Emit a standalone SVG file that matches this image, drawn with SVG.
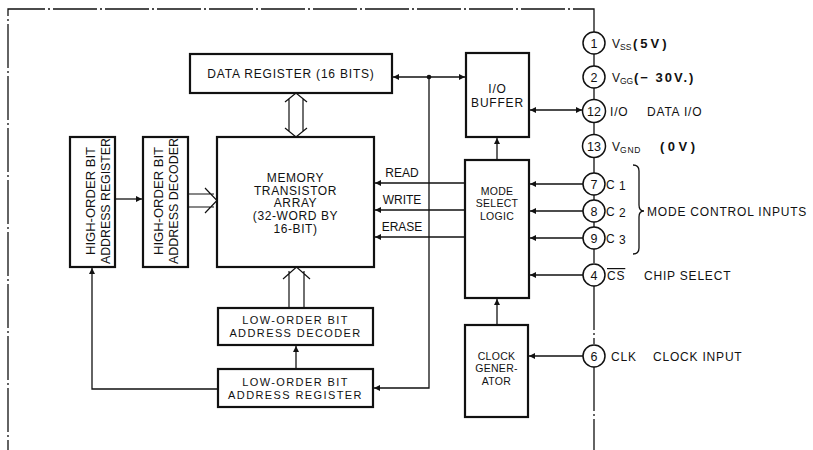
<svg xmlns="http://www.w3.org/2000/svg" width="813" height="450" viewBox="0 0 813 450">
<style>
  .box{fill:#fff;stroke:#111;stroke-width:2.2}
  .ln{fill:none;stroke:#111;stroke-width:1.3}
  .hol{fill:none;stroke:#111;stroke-width:1.2}
  .dash{fill:none;stroke:#111;stroke-width:1.3;stroke-dasharray:44 3 2 3}
  .pin{fill:#fff;stroke:#111;stroke-width:1.5}
  text{font-family:"Liberation Sans",Arial,sans-serif;fill:#111;font-size:12px}
  .c{text-anchor:middle}
  .ls{letter-spacing:0.8px}
  .lo{font-size:11px;letter-spacing:1.4px;text-anchor:middle}
  .sm{font-size:10.5px;letter-spacing:0.3px;text-anchor:middle}
  .pn{font-size:12.5px;text-anchor:middle}
  .sub{font-size:8.5px}
  .b{font-weight:bold;font-size:13px}
</style>
<defs>
  <marker id="ah" viewBox="0 0 10 10" refX="10" refY="5" markerWidth="8" markerHeight="6" markerUnits="userSpaceOnUse" orient="auto-start-reverse">
    <path d="M0,0 L10,5 L0,10 z" fill="#111"/>
  </marker>
</defs>

<g id="connectors">
  <path class="dash" d="M594,32 V9 H8 V450"/>
  <path class="ln" d="M594,54 V66 M594,88 V99 M594,123 V135 M594,158 V173 M594,195 V200 M594,222 V227 M594,249 V263"/>
  <path class="dash" d="M594,286 V344 M594,367 V450"/>

  <line class="ln" x1="429" y1="77" x2="393" y2="77" marker-end="url(#ah)"/>
  <line class="ln" x1="429" y1="77" x2="465" y2="77" marker-end="url(#ah)"/>
  <circle cx="429" cy="77" r="2.3" fill="#111"/>
  <path class="ln" d="M429,77 V388 H374" marker-end="url(#ah)"/>

  <line class="ln" x1="530" y1="110" x2="582" y2="110" marker-start="url(#ah)" marker-end="url(#ah)"/>
  <line class="ln" x1="497" y1="160" x2="497" y2="138" marker-end="url(#ah)"/>
  <line class="ln" x1="497" y1="325" x2="497" y2="299" marker-end="url(#ah)"/>

  <line class="ln" x1="465" y1="183" x2="375" y2="183" marker-end="url(#ah)"/>
  <line class="ln" x1="465" y1="210" x2="375" y2="210" marker-end="url(#ah)"/>
  <line class="ln" x1="465" y1="237" x2="375" y2="237" marker-end="url(#ah)"/>

  <line class="ln" x1="583" y1="184" x2="530" y2="184" marker-end="url(#ah)"/>
  <line class="ln" x1="583" y1="211" x2="530" y2="211" marker-end="url(#ah)"/>
  <line class="ln" x1="583" y1="238" x2="530" y2="238" marker-end="url(#ah)"/>
  <line class="ln" x1="583" y1="275" x2="530" y2="275" marker-end="url(#ah)"/>
  <line class="ln" x1="583" y1="356" x2="529" y2="356" marker-end="url(#ah)"/>

  <line class="ln" x1="115" y1="199" x2="142" y2="199" marker-end="url(#ah)"/>
  <path class="ln" d="M218,389 H92 V268" marker-end="url(#ah)"/>
  <line class="ln" x1="296" y1="369" x2="296" y2="346" marker-end="url(#ah)"/>

  <path class="hol" d="M285,102 L296,93 L307,102 M289,99 V131 M303,99 V131 M285,128 L296,137 L307,128"/>
  <path class="hol" d="M189,194 H214 M189,207 H214 M205,188 L217,200.5 L205,213"/>
  <path class="hol" d="M289,308 V271 M304,308 V271 M283,279 L296.5,267 L310,279"/>

  <path class="ln" d="M633,165 Q639,165 639,171 V205 Q639,211 644,211 Q639,211 639,217 V248 Q639,254 633,254"/>
</g>

<g id="data-register">
  <rect class="box" x="190" y="54" width="202" height="39"/>
  <text class="c ls" x="291" y="78">DATA REGISTER (16 BITS)</text>
</g>

<g id="memory-array">
  <rect class="box" x="217" y="137" width="157" height="130"/>
  <text class="c" x="295.5" y="182" style="letter-spacing:0.6px">MEMORY</text>
  <text class="c" x="295.5" y="194.5" style="letter-spacing:0.6px">TRANSISTOR</text>
  <text class="c" x="295.5" y="207" style="letter-spacing:0.6px">ARRAY</text>
  <text class="c" x="295.5" y="220" style="letter-spacing:0.6px">(32-WORD BY</text>
  <text class="c" x="295.5" y="233" style="letter-spacing:0.6px">16-BIT)</text>
</g>

<g id="high-order-register">
  <rect class="box" x="70" y="137" width="45" height="130"/>
  <g transform="translate(92,201) rotate(-90)">
    <text class="c" x="0" y="3" font-size="13" textLength="108" lengthAdjust="spacingAndGlyphs">HIGH-ORDER BIT</text>
    <text class="c" x="0" y="18" font-size="13" textLength="126" lengthAdjust="spacingAndGlyphs">ADDRESS REGISTER</text>
  </g>
</g>

<g id="high-order-decoder">
  <rect class="box" x="143" y="137" width="45" height="130"/>
  <g transform="translate(165.5,201) rotate(-90)">
    <text class="c" x="0" y="-3" font-size="13" textLength="108" lengthAdjust="spacingAndGlyphs">HIGH-ORDER BIT</text>
    <text class="c" x="0" y="12" font-size="13" textLength="126" lengthAdjust="spacingAndGlyphs">ADDRESS DECODER</text>
  </g>
</g>

<g id="low-order-decoder">
  <rect class="box" x="218" y="308" width="155" height="37"/>
  <text class="lo" x="295.5" y="323.5">LOW-ORDER BIT</text>
  <text class="lo" x="295.5" y="336.5">ADDRESS DECODER</text>
</g>

<g id="low-order-register">
  <rect class="box" x="218" y="369" width="155" height="38"/>
  <text class="lo" x="295.5" y="385.5">LOW-ORDER BIT</text>
  <text class="lo" x="295.5" y="398.5">ADDRESS REGISTER</text>
</g>

<g id="io-buffer">
  <rect class="box" x="466" y="53" width="63" height="84"/>
  <text class="c ls" x="497.5" y="93">I/O</text>
  <text class="c ls" x="497.5" y="107">BUFFER</text>
</g>

<g id="mode-select">
  <rect class="box" x="465" y="160" width="64" height="138"/>
  <text class="sm" x="497" y="194.5">MODE</text>
  <text class="sm" x="497" y="207">SELECT</text>
  <text class="sm" x="497" y="219.5">LOGIC</text>
</g>

<g id="clock-generator">
  <rect class="box" x="465" y="325" width="63" height="92"/>
  <text class="sm" x="496.5" y="359.5">CLOCK</text>
  <text class="sm" x="496.5" y="372">GENER-</text>
  <text class="sm" x="496.5" y="384.5">ATOR</text>
</g>

<g id="labels-rwe">
  <text class="c" x="402" y="177">READ</text>
  <text class="c" x="402" y="204">WRITE</text>
  <text class="c" x="402" y="231">ERASE</text>
</g>

<g id="pin-1">
  <circle class="pin" cx="594" cy="43" r="11"/>
  <text class="pn" x="594" y="47.5">1</text>
  <text x="612" y="48">V</text>
  <text class="sub" x="620" y="50">SS</text>
  <text class="b" x="633" y="48" style="letter-spacing:3px">(5V)</text>
</g>
<g id="pin-2">
  <circle class="pin" cx="594" cy="77" r="11"/>
  <text class="pn" x="594" y="81.5">2</text>
  <text x="612" y="82">V</text>
  <text class="sub" x="620" y="84">GG</text>
  <text class="b" x="634" y="82" style="letter-spacing:2px">(− 30V.)</text>
</g>
<g id="pin-12">
  <circle class="pin" cx="594" cy="111" r="11.5"/>
  <text class="pn" x="594" y="115.5">12</text>
  <text class="ls" x="610" y="116">I/O</text>
  <text class="ls" x="647" y="116">DATA I/O</text>
</g>
<g id="pin-13">
  <circle class="pin" cx="594" cy="146" r="11.5"/>
  <text class="pn" x="594" y="150.5">13</text>
  <text x="612" y="151">V</text>
  <text class="sub" x="620" y="153" style="letter-spacing:0.8px">GND</text>
  <text class="b" x="660" y="151" style="letter-spacing:3.5px">(0V)</text>
</g>
<g id="pin-7">
  <circle class="pin" cx="594" cy="184" r="11"/>
  <text class="pn" x="594" y="188.5">7</text>
  <text x="606" y="189" font-size="13">C</text>
  <text x="619" y="190" font-size="10">1</text>
</g>
<g id="pin-8">
  <circle class="pin" cx="594" cy="211" r="11"/>
  <text class="pn" x="594" y="215.5">8</text>
  <text x="606" y="216" font-size="13">C</text>
  <text x="619" y="217" font-size="10">2</text>
</g>
<g id="pin-9">
  <circle class="pin" cx="594" cy="238" r="11"/>
  <text class="pn" x="594" y="242.5">9</text>
  <text x="606" y="243" font-size="13">C</text>
  <text x="619" y="244" font-size="10">3</text>
</g>
<g id="mode-control-label">
  <text class="ls" x="647" y="216">MODE CONTROL INPUTS</text>
</g>
<g id="pin-4">
  <circle class="pin" cx="594" cy="275" r="11"/>
  <text class="pn" x="594" y="279.5">4</text>
  <text class="ls" x="607" y="280" text-decoration="overline">CS</text>
  <text class="ls" x="644" y="280">CHIP SELECT</text>
</g>
<g id="pin-6">
  <circle class="pin" cx="594" cy="356" r="11"/>
  <text class="pn" x="594" y="360.5">6</text>
  <text class="ls" x="611" y="361">CLK</text>
  <text class="ls" x="653" y="361">CLOCK INPUT</text>
</g>
</svg>
